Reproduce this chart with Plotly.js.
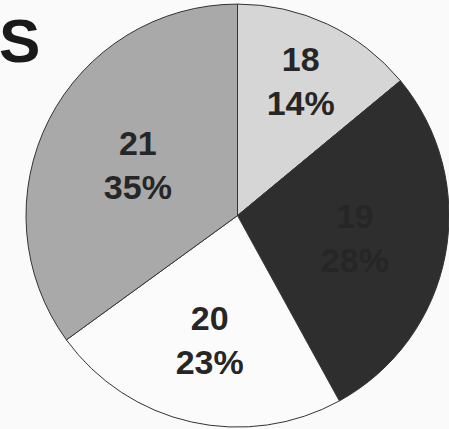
<!DOCTYPE html>
<html>
<head>
<meta charset="utf-8">
<script src="https://cdn.plot.ly/plotly-3.0.1.min.js"></script>
<style>html,body{margin:0;padding:0;background:#fafafa;}#chart{width:449px;height:429px;}</style>
</head>
<body>
<div id="chart"></div>
<script>
const labels = ["18", "19", "20", "21"];
const values = [14, 28, 23, 35];
const sliceColors = ["#d6d6d6", "#2e2e2e", "#fbfbfb", "#a9a9a9"];
const panelLetter = "S";

const trace = {
  type: "pie",
  labels: labels,
  values: values,
  sort: false,
  direction: "clockwise",
  rotation: 0,
  textinfo: "label+percent",
  texttemplate: "<b>%{label}</b><br><b>%{percent:.0%}</b>",
  textposition: "inside",
  insidetextorientation: "horizontal",
  hoverinfo: "none",
  marker: {colors: sliceColors, line: {color: "#333333", width: 1}},
  textfont: {family: "Liberation Sans, Arial, sans-serif", size: 34, color: "#262626"},
  domain: {x: [26/449, 1], y: [0, 0.995]},
  showlegend: false
};

const layout = {
  width: 449, height: 429,
  margin: {l: 0, r: 0, t: 0, b: 0},
  paper_bgcolor: "#fafafa",
  plot_bgcolor: "#fafafa",
  showlegend: false,
  uniformtext: {minsize: 34, mode: "show"},
  annotations: [{
    text: "<b>" + panelLetter + "</b>",
    xref: "paper", yref: "paper",
    x: 0, y: 1, xanchor: "left", yanchor: "top",
    xshift: -3, yshift: -4,
    showarrow: false,
    font: {family: "Liberation Sans, Arial, sans-serif", size: 62, color: "#1a1a1a"}
  }]
};

Plotly.newPlot("chart", [trace], layout, {staticPlot: true, displayModeBar: false});
</script>
</body>
</html>
